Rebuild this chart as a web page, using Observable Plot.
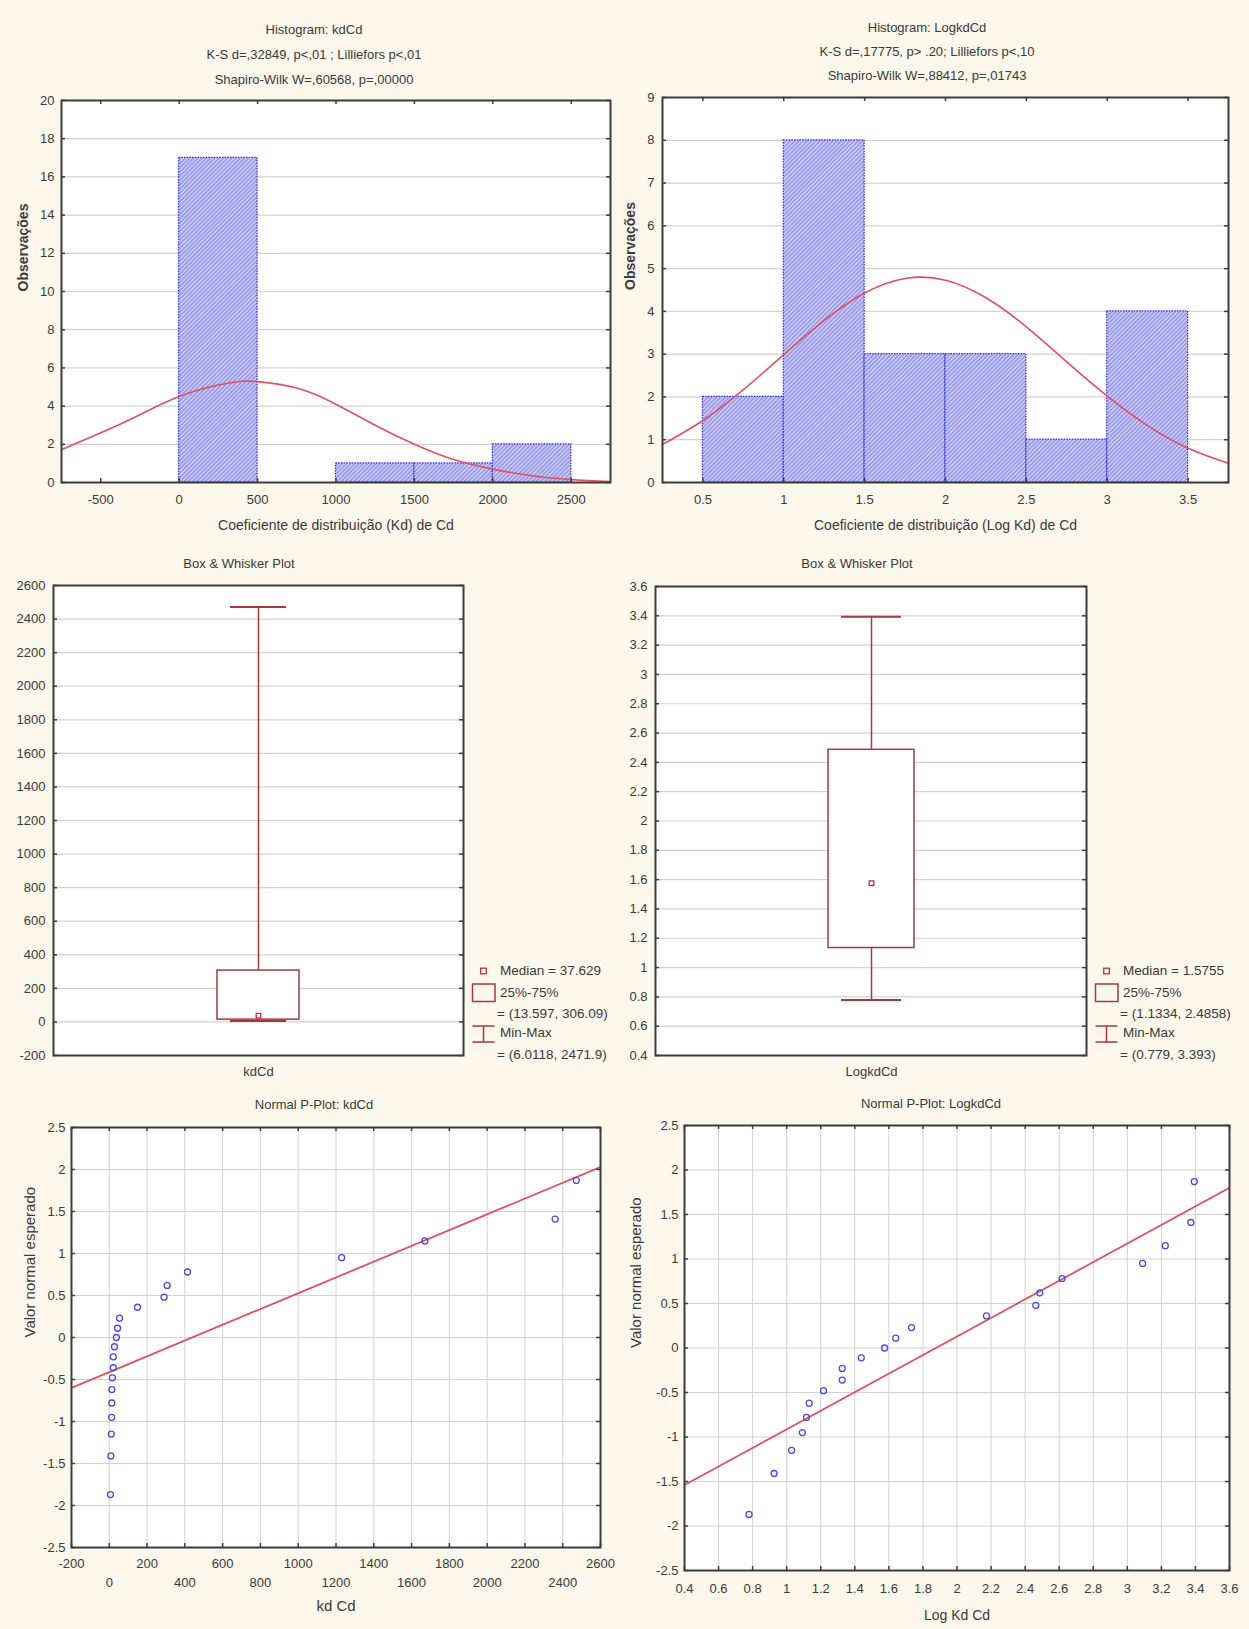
<!DOCTYPE html>
<html>
<head>
<meta charset="utf-8">
<script src="https://cdn.jsdelivr.net/npm/d3@7"></script>
<script src="https://cdn.jsdelivr.net/npm/@observablehq/plot@0.6"></script>
<style>
  body { margin: 0; background: #fbf7eb; }
  #page { position: relative; width: 1249px; height: 1629px; overflow: hidden;
          font-family: "Liberation Sans", Arial, sans-serif; color: #3a3a3a; }
  .t { position: absolute; white-space: nowrap; font-size: 13px; line-height: 16px;
       transform: translate(-50%, -50%); }
  .panel { position: absolute; }
  .panel svg { display: block; max-width: none; }
  .lg { position: absolute; white-space: nowrap; font-size: 13.5px; line-height: 16px;
        transform: translateY(-50%); }
  .icon { position: absolute; overflow: visible; }
</style>
</head>
<body>
<div id="page"></div>
<svg width="0" height="0" style="position:absolute">
  <defs>
    <pattern id="hatch" patternUnits="userSpaceOnUse" width="3" height="3" patternTransform="rotate(-45)">
      <rect width="3" height="3" fill="#9797ec"></rect>
      <rect width="3" height="1.2" fill="#d8d8fa"></rect>
    </pattern>
  </defs>
</svg>
<script>
// ---------- Histogram of Kd (Cd) ----------
const kdBinLo = [0, 500, 1000, 1500, 2000];
const kdBinHi = [500, 1000, 1500, 2000, 2500];
const kdCounts = [17, 0, 1, 1, 2];
const kdCurveX = [-750, -500, -250, 0, 250, 400, 500, 750, 1000, 1250, 1500, 1750, 2000, 2250, 2500, 2750];
const kdCurveY = [1.72, 2.6, 3.55, 4.5, 5.1, 5.3, 5.28, 4.95, 4.1, 3.0, 2.0, 1.2, 0.7, 0.35, 0.15, 0.05];
const kdHistXTicks = [-500, 0, 500, 1000, 1500, 2000, 2500];
const kdHistYTicks = [0, 2, 4, 6, 8, 10, 12, 14, 16, 18, 20];

// ---------- Histogram of log Kd (Cd) ----------
const logBinLo = [0.5, 1, 1.5, 2, 2.5, 3];
const logBinHi = [1, 1.5, 2, 2.5, 3, 3.5];
const logCounts = [2, 8, 3, 3, 1, 4];
const logCurveX = [0.25, 0.5, 0.75, 1, 1.25, 1.5, 1.75, 2, 2.25, 2.5, 2.75, 3, 3.25, 3.5, 3.75];
const logCurveY = [0.89, 1.45, 2.17, 2.99, 3.79, 4.43, 4.77, 4.73, 4.32, 3.64, 2.82, 2.02, 1.33, 0.8, 0.45];
const logHistXTicks = [0.5, 1, 1.5, 2, 2.5, 3, 3.5];
const logHistYTicks = [0, 1, 2, 3, 4, 5, 6, 7, 8, 9];

// ---------- Box & whisker summaries ----------
const boxStatNames = ["min", "q1", "median", "q3", "max"];
const kdBoxStats = [6.0118, 13.597, 37.629, 306.09, 2471.9];
const logBoxStats = [0.779, 1.1334, 1.5755, 2.4858, 3.393];
const kdBoxYTicks = [-200, 0, 200, 400, 600, 800, 1000, 1200, 1400, 1600, 1800, 2000, 2200, 2400, 2600];
const logBoxYTicks = [0.4, 0.6, 0.8, 1, 1.2, 1.4, 1.6, 1.8, 2, 2.2, 2.4, 2.6, 2.8, 3, 3.2, 3.4, 3.6];

// ---------- Normal probability plots ----------
const expectedNormal = [-1.87, -1.41, -1.15, -0.95, -0.78, -0.62, -0.48, -0.36, -0.23, -0.11, 0,
                        0.11, 0.23, 0.36, 0.48, 0.62, 0.78, 0.95, 1.15, 1.41, 1.87];
const kdSorted = [6.0, 8.4, 10.7, 12.4, 13.1, 13.6, 16.4, 21.2, 21.2, 27.4, 37.6,
                  43.7, 54.1, 149, 290, 306.1, 414, 1230, 1671, 2360, 2471.9];
const logSorted = [0.779, 0.926, 1.029, 1.092, 1.116, 1.132, 1.216, 1.326, 1.326, 1.438, 1.575,
                   1.64, 1.733, 2.173, 2.463, 2.486, 2.617, 3.09, 3.223, 3.373, 3.393];
const kdLineX = [-200, 2600];
const kdLineY = [-0.6, 2.03];
const logLineX = [0.4, 3.6];
const logLineY = [-1.54, 1.8];
const kdPXTicksTop = [-200, 200, 600, 1000, 1400, 1800, 2200, 2600];
const kdPXTicksBottom = [0, 400, 800, 1200, 1600, 2000, 2400];
const logPXTicks = [0.4, 0.6, 0.8, 1, 1.2, 1.4, 1.6, 1.8, 2, 2.2, 2.4, 2.6, 2.8, 3, 3.2, 3.4, 3.6];
const pYTicks = [-2.5, -2, -1.5, -1, -0.5, 0, 0.5, 1, 1.5, 2, 2.5];

// ---------- shared styling ----------
const page = document.getElementById("page");
const FONT = '"Liberation Sans", Arial, sans-serif';
const INK = "#3a3a3a";
const FRAME = "#3c3c3c";
const GRID = "#d2d2d2";
const RED = "#e2505e";
const BOX = "#a23a40";
const BLUE = "#4a4ae6";
const fmt = d => String(+(+d).toFixed(2));

function addPlot({left, top, width, height, frame, x, y, marks}) {
  const [L, T, R, B] = frame;
  const svg = Plot.plot({
    width, height,
    marginLeft: L - left, marginRight: left + width - R,
    marginTop: T - top, marginBottom: top + height - B,
    x: {...x, label: null}, y: {...y, label: null},
    style: {background: "transparent", fontFamily: FONT, fontSize: "13px", color: INK, overflow: "visible"},
    marks
  });
  const div = document.createElement("div");
  div.className = "panel";
  Object.assign(div.style, {left: left + "px", top: top + "px", width: width + "px", height: height + "px"});
  div.appendChild(svg);
  page.appendChild(div);
}

function label(str, cx, cy) {
  const d = document.createElement("div");
  d.className = "t";
  d.textContent = str;
  Object.assign(d.style, {left: cx + "px", top: cy + "px"});
  page.appendChild(d);
}

// short inward tick marks along the four frame edges
function edgeTicks(xt, yt, fw, fh, len = 4) {
  const m = [];
  const st = {stroke: FRAME, strokeWidth: 1.5};
  if (xt) {
    m.push(Plot.tickX(xt, {x: d => d, insetTop: fh - len, ...st}));
    m.push(Plot.tickX(xt, {x: d => d, insetBottom: fh - len, ...st}));
  }
  m.push(Plot.tickY(yt, {y: d => d, insetRight: fw - len, ...st}));
  m.push(Plot.tickY(yt, {y: d => d, insetLeft: fw - len, ...st}));
  return m;
}

const axX = (ticks, pad) => Plot.axisX(ticks, {tickSize: 0, tickPadding: pad, tickFormat: fmt, label: null});
const axY = (ticks, pad) => Plot.axisY(ticks, {tickSize: 0, tickPadding: pad, tickFormat: fmt, label: null});

function xTitle(str, dy, size = 14) {
  return Plot.text([str], {text: d => d, frameAnchor: "bottom", dy, fontSize: size, fill: INK});
}
function yTitle(str, dx, size = 14, weight = "normal") {
  return Plot.text([str], {text: d => d, frameAnchor: "left", dx, rotate: -90, fontSize: size, fontWeight: weight, fill: INK});
}

// ---------- panel 1: histogram of Kd ----------
{
  const bars = kdBinLo.map((lo, i) => ({lo, hi: kdBinHi[i], n: kdCounts[i]})).filter(d => d.n > 0);
  const curve = kdCurveX.map((x, i) => ({x, y: kdCurveY[i]}));
  const frame = [61, 100, 610, 482];
  addPlot({
    left: 0, top: 90, width: 624, height: 455, frame,
    x: {domain: [-750, 2750]}, y: {domain: [0, 20]},
    marks: [
      Plot.frame({fill: "white"}),
      Plot.gridY(kdHistYTicks, {stroke: GRID, strokeOpacity: 1, strokeWidth: 1.2}),
      Plot.rectY(bars, {x1: "lo", x2: "hi", y: "n", fill: "url(#hatch)", stroke: "#2c2cf5", strokeWidth: 1.2, strokeDasharray: "1.5,1.2"}),
      Plot.line(curve, {x: "x", y: "y", curve: "natural", stroke: RED, strokeWidth: 1.6, clip: true}),
      Plot.frame({stroke: FRAME, strokeWidth: 2}),
      ...edgeTicks(kdHistXTicks, kdHistYTicks, frame[2] - frame[0], frame[3] - frame[1]),
      axX(kdHistXTicks, 12),
      axY(kdHistYTicks, 7),
      xTitle("Coeficiente de distribuição (Kd) de Cd", 47),
      yTitle("Observações", -38, 14, "bold")
    ]
  });
  label("Histogram: kdCd", 314, 30);
  label("K-S d=,32849, p<,01 ; Lilliefors p<,01", 314, 55);
  label("Shapiro-Wilk W=,60568, p=,00000", 314, 80);
}

// ---------- panel 2: histogram of log Kd ----------
{
  const bars = logBinLo.map((lo, i) => ({lo, hi: logBinHi[i], n: logCounts[i]})).filter(d => d.n > 0);
  const curve = logCurveX.map((x, i) => ({x, y: logCurveY[i]}));
  const frame = [662, 97, 1228, 482];
  addPlot({
    left: 624, top: 88, width: 625, height: 457, frame,
    x: {domain: [0.25, 3.75]}, y: {domain: [0, 9]},
    marks: [
      Plot.frame({fill: "white"}),
      Plot.gridY(logHistYTicks, {stroke: GRID, strokeOpacity: 1, strokeWidth: 1.2}),
      Plot.rectY(bars, {x1: "lo", x2: "hi", y: "n", fill: "url(#hatch)", stroke: "#2c2cf5", strokeWidth: 1.2, strokeDasharray: "1.5,1.2"}),
      Plot.line(curve, {x: "x", y: "y", curve: "natural", stroke: RED, strokeWidth: 1.6, clip: true}),
      Plot.frame({stroke: FRAME, strokeWidth: 2}),
      ...edgeTicks(logHistXTicks, logHistYTicks, frame[2] - frame[0], frame[3] - frame[1]),
      axX(logHistXTicks, 12),
      axY(logHistYTicks, 8),
      xTitle("Coeficiente de distribuição (Log Kd) de Cd", 47),
      yTitle("Observações", -32, 14, "bold")
    ]
  });
  label("Histogram: LogkdCd", 927, 28);
  label("K-S d=,17775, p> .20; Lilliefors p<,10", 927, 52);
  label("Shapiro-Wilk W=,88412, p=,01743", 927, 76);
}

// ---------- panels 3 & 4: box & whisker plots ----------
function boxPanel({name, stats, yTicks, yDomain, frame, left, width, title, titleX, legendX}) {
  const s = Object.fromEntries(boxStatNames.map((k, i) => [k, stats[i]]));
  const row = [{name, ...s}];
  addPlot({
    left, top: 575, width, height: 510, frame,
    x: {type: "band", domain: [name], paddingInner: 0, paddingOuter: 2},
    y: {domain: yDomain},
    marks: [
      Plot.frame({fill: "white"}),
      Plot.gridY(yTicks, {stroke: GRID, strokeOpacity: 1, strokeWidth: 1.2}),
      Plot.ruleX(row, {x: "name", y1: "q3", y2: "max", stroke: BOX, strokeWidth: 1.5}),
      Plot.ruleX(row, {x: "name", y1: "min", y2: "q1", stroke: BOX, strokeWidth: 1.5}),
      Plot.tickY(row, {x: "name", y: "max", insetLeft: 13, insetRight: 13, stroke: BOX, strokeWidth: 2}),
      Plot.tickY(row, {x: "name", y: "min", insetLeft: 13, insetRight: 13, stroke: BOX, strokeWidth: 2}),
      Plot.barY(row, {x: "name", y1: "q1", y2: "q3", fill: "white", stroke: BOX, strokeWidth: 1.5}),
      Plot.dot(row, {x: "name", y: "median", symbol: "square", r: 2.6, stroke: "#c0303a", strokeWidth: 1.3, fill: "none"}),
      Plot.frame({stroke: FRAME, strokeWidth: 2}),
      ...edgeTicks(null, yTicks, frame[2] - frame[0], frame[3] - frame[1]),
      Plot.axisX({tickSize: 0, tickPadding: 11, label: null}),
      axY(yTicks, 8)
    ]
  });
  label(title, titleX, 564);

  // legend beside the frame
  const cx = legendX + 11.5;
  const icons = d3.select(page).append("svg")
    .attr("class", "icon")
    .style("left", legendX + "px").style("top", "960px")
    .attr("width", 26).attr("height", 90);
  const g = icons.append("g").attr("fill", "none").attr("stroke", BOX).attr("stroke-width", 1.5);
  g.append("rect").attr("x", cx - legendX - 2.8).attr("y", 8.2).attr("width", 5.6).attr("height", 5.6)
    .attr("stroke", "#c0303a").attr("stroke-width", 1.3);
  g.append("rect").attr("x", 0.5).attr("y", 24).attr("width", 22.5).attr("height", 17.5);
  g.append("line").attr("x1", 11.5).attr("x2", 11.5).attr("y1", 66).attr("y2", 82);
  g.append("line").attr("x1", 0.5).attr("x2", 22.5).attr("y1", 66).attr("y2", 66);
  g.append("line").attr("x1", 0.5).attr("x2", 22.5).attr("y1", 82).attr("y2", 82);

  const lines = [
    [`Median = ${s.median}`, 28.5, 971],
    ["25%-75%", 28.5, 993],
    [`= (${s.q1}, ${s.q3})`, 25.5, 1013.5],
    ["Min-Max", 28.5, 1033],
    [`= (${s.min}, ${s.max})`, 25.5, 1055]
  ];
  for (const [str, dx, cy] of lines) {
    const d = document.createElement("div");
    d.className = "lg";
    d.textContent = str;
    Object.assign(d.style, {left: (legendX + dx) + "px", top: cy + "px"});
    page.appendChild(d);
  }
}

boxPanel({
  name: "kdCd", stats: kdBoxStats, yTicks: kdBoxYTicks, yDomain: [-200, 2600],
  frame: [53, 585, 463, 1055], left: 0, width: 470,
  title: "Box & Whisker Plot", titleX: 239, legendX: 471.5
});
boxPanel({
  name: "LogkdCd", stats: logBoxStats, yTicks: logBoxYTicks, yDomain: [0.4, 3.6],
  frame: [655, 586, 1086, 1055], left: 624, width: 470,
  title: "Box & Whisker Plot", titleX: 857, legendX: 1094.5
});

// ---------- panels 5 & 6: normal probability plots ----------
{
  const pts = kdSorted.map((x, i) => ({x, y: expectedNormal[i]}));
  const fit = kdLineX.map((x, i) => ({x, y: kdLineY[i]}));
  const frame = [71, 1127, 600, 1547];
  const allX = kdPXTicksTop.concat(kdPXTicksBottom).sort((a, b) => a - b);
  addPlot({
    left: 0, top: 1115, width: 624, height: 512, frame,
    x: {domain: [-200, 2600]}, y: {domain: [-2.5, 2.5]},
    marks: [
      Plot.frame({fill: "white"}),
      Plot.gridX(allX, {stroke: GRID, strokeOpacity: 1, strokeWidth: 1}),
      Plot.gridY(pYTicks, {stroke: GRID, strokeOpacity: 1, strokeWidth: 1}),
      Plot.line(fit, {x: "x", y: "y", stroke: RED, strokeWidth: 1.8, clip: true}),
      Plot.dot(pts, {x: "x", y: "y", r: 3, stroke: BLUE, strokeWidth: 1.3, fill: "none"}),
      Plot.frame({stroke: FRAME, strokeWidth: 2}),
      ...edgeTicks(allX, pYTicks, frame[2] - frame[0], frame[3] - frame[1]),
      axX(kdPXTicksTop, 11),
      axX(kdPXTicksBottom, 30),
      axY(pYTicks, 6),
      xTitle("kd Cd", 63.5, 15),
      yTitle("Valor normal esperado", -41, 15)
    ]
  });
  label("Normal P-Plot: kdCd", 314, 1105);
}
{
  const pts = logSorted.map((x, i) => ({x, y: expectedNormal[i]}));
  const fit = logLineX.map((x, i) => ({x, y: logLineY[i]}));
  const frame = [684, 1125, 1229, 1570];
  addPlot({
    left: 624, top: 1113, width: 625, height: 516, frame,
    x: {domain: [0.4, 3.6]}, y: {domain: [-2.5, 2.5]},
    marks: [
      Plot.frame({fill: "white"}),
      Plot.gridX(logPXTicks, {stroke: GRID, strokeOpacity: 1, strokeWidth: 1}),
      Plot.gridY(pYTicks, {stroke: GRID, strokeOpacity: 1, strokeWidth: 1}),
      Plot.line(fit, {x: "x", y: "y", stroke: RED, strokeWidth: 1.8, clip: true}),
      Plot.dot(pts, {x: "x", y: "y", r: 3, stroke: BLUE, strokeWidth: 1.3, fill: "none"}),
      Plot.frame({stroke: FRAME, strokeWidth: 2}),
      ...edgeTicks(logPXTicks, pYTicks, frame[2] - frame[0], frame[3] - frame[1]),
      axX(logPXTicks, 13),
      axY(pYTicks, 6),
      xTitle("Log Kd Cd", 49, 14),
      yTitle("Valor normal esperado", -48, 15)
    ]
  });
  label("Normal P-Plot: LogkdCd", 931, 1104);
}
</script>
</body>
</html>
